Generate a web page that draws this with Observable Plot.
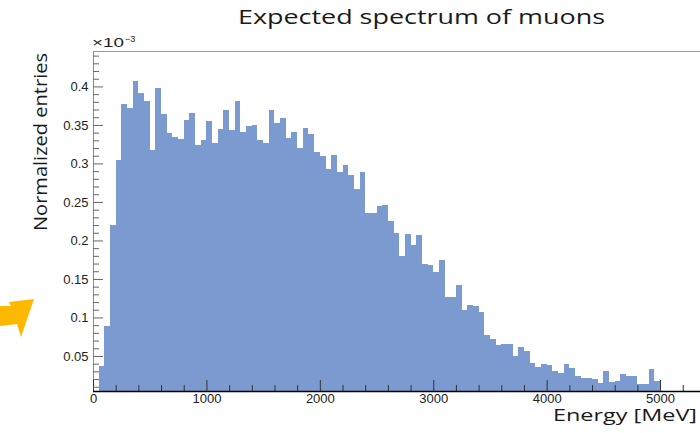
<!DOCTYPE html>
<html>
<head>
<meta charset="utf-8">
<script src="https://cdn.jsdelivr.net/npm/d3@7"></script>
<script src="https://cdn.jsdelivr.net/npm/@observablehq/plot@0.6"></script>
<style>
  html, body { margin: 0; padding: 0; background: #fff; }
  #chart { width: 700px; height: 433px; overflow: hidden; }
</style>
</head>
<body>
<div id="chart"></div>
<script>
// ---- data (energy bins in MeV, normalized entries in units of 1e-3) ----
const binLow = [50,100,150,200,250,300,350,400,450,500,550,600,650,700,750,800,850,900,950,1000,
  1050,1100,1150,1200,1250,1300,1350,1400,1450,1500,1550,1600,1650,1700,1750,1800,1850,1900,1950,2000,
  2050,2100,2150,2200,2250,2300,2350,2400,2450,2500,2550,2600,2650,2700,2750,2800,2850,2900,2950,3000,
  3050,3100,3150,3200,3250,3300,3350,3400,3450,3500,3550,3600,3650,3700,3750,3800,3850,3900,3950,4000,
  4050,4100,4150,4200,4250,4300,4350,4400,4450,4500,4550,4600,4650,4700,4750,4800,4850,4900,4950];
const binWidth = 50;
const entries = [
  0.037,0.089,0.220,0.305,0.377,0.372,0.407,0.391,0.381,0.317,0.398,0.364,0.339,0.334,0.332,0.356,
  0.366,0.324,0.330,0.355,0.327,0.345,0.369,0.343,0.381,0.341,0.349,0.350,0.330,0.327,0.369,0.352,
  0.359,0.333,0.341,0.320,0.346,0.338,0.315,0.310,0.293,0.311,0.289,0.298,0.285,0.267,0.289,0.235,
  0.235,0.245,0.246,0.225,0.210,0.180,0.209,0.194,0.207,0.169,0.168,0.159,0.175,0.127,0.127,0.142,
  0.110,0.116,0.115,0.107,0.077,0.072,0.064,0.066,0.066,0.050,0.061,0.057,0.041,0.036,0.040,0.038,
  0.030,0.028,0.040,0.034,0.024,0.021,0.021,0.020,0.015,0.030,0.016,0.018,0.027,0.024,0.024,0.013,
  0.013,0.033,0.018];

const xMajorTicks = [0,1000,2000,3000,4000,5000];
const xMinorTicks = [200,400,600,800,1200,1400,1600,1800,2200,2400,2600,2800,3200,3400,3600,3800,
  4200,4400,4600,4800,5200];
const yMajorTicks = [0.05,0.1,0.15,0.2,0.25,0.3,0.35,0.4];
const yMinorTicks = [0.01,0.02,0.03,0.04,0.06,0.07,0.08,0.09,0.11,0.12,0.13,0.14,0.16,0.17,0.18,0.19,
  0.21,0.22,0.23,0.24,0.26,0.27,0.28,0.29,0.31,0.32,0.33,0.34,0.36,0.37,0.38,0.39,0.41,0.42,0.43,0.44];

const titleText = "Expected spectrum of muons";
const xTitle = "Energy [MeV]";
const yTitle = "Normalized entries";

// ---- layout ----
const W = 700, H = 433;
const mL = 93, mR = 0, mT = 51, mB = 42;
const frameW = W - mL - mR, frameH = H - mT - mB;
const xDomain = [0, 5352];
const yDomain = [0.0045, 0.446];
const barColor = "#7b9ad0";

const bins = binLow.map((lo, i) => ({lo, hi: lo + binWidth, v: entries[i]}));

const plot = Plot.plot({
  width: W, height: H,
  marginLeft: mL, marginRight: mR, marginTop: mT, marginBottom: mB,
  style: {fontFamily: "'Liberation Sans', Arial, sans-serif", fontSize: "13px", color: "#222", background: "#fff"},
  x: {domain: xDomain, ticks: xMajorTicks, tickSize: 0, tickPadding: 2, tickFormat: d => String(d), label: null},
  y: {domain: yDomain, ticks: yMajorTicks, tickSize: 0, tickPadding: 5, tickFormat: d => String(d), label: null},
  marks: [
    Plot.rect(bins, {x1: "lo", x2: "hi", y1: yDomain[0], y2: "v", fill: barColor, shapeRendering: "crispEdges"}),
    Plot.ruleY([yDomain[1]], {stroke: "#9a9a9a", strokeWidth: 1}),
    Plot.ruleX([xDomain[0]], {stroke: "#8a8a8a", strokeWidth: 1}),
    Plot.tickX(xMajorTicks, {x: d => d, insetTop: frameH - 11, stroke: "#333"}),
    Plot.tickX(xMinorTicks, {x: d => d, insetTop: frameH - 6, stroke: "#333"}),
    Plot.tickY(yMajorTicks, {y: d => d, insetRight: frameW - 10, stroke: "#666"}),
    Plot.tickY(yMinorTicks, {y: d => d, insetRight: frameW - 6, stroke: "#666"}),
    Plot.ruleY([yDomain[0]], {stroke: "#000", strokeWidth: 1.6})
  ]
});

document.getElementById("chart").appendChild(plot);
const svg = d3.select(plot);
const sans = "'Open Sans', 'DejaVu Sans', sans-serif";

// title
svg.append("text")
  .attr("x", 238).attr("y", 24)
  .attr("text-anchor", "start")
  .attr("font-family", sans).attr("font-size", 20).attr("fill", "#1a1a1a")
  .attr("textLength", 367).attr("lengthAdjust", "spacingAndGlyphs")
  .text(titleText);

// exponent label
svg.append("text")
  .attr("x", 92).attr("y", 47)
  .attr("text-anchor", "start")
  .attr("font-family", "'Liberation Sans', Arial, sans-serif").attr("font-size", 13).attr("fill", "#222")
  .attr("textLength", 32).attr("lengthAdjust", "spacingAndGlyphs")
  .text("×10");
svg.append("text")
  .attr("x", 125).attr("y", 42)
  .attr("text-anchor", "start")
  .attr("font-family", "'Liberation Sans', Arial, sans-serif").attr("font-size", 9).attr("fill", "#222")
  .text("−3");

// y title
svg.append("text")
  .attr("transform", "translate(47,53) rotate(-90)")
  .attr("text-anchor", "end")
  .attr("font-family", sans).attr("font-size", 19).attr("fill", "#1a1a1a")
  .attr("textLength", 178).attr("lengthAdjust", "spacingAndGlyphs")
  .text(yTitle);

// x title
svg.append("text")
  .attr("x", 697).attr("y", 421)
  .attr("text-anchor", "end")
  .attr("font-family", sans).attr("font-size", 16).attr("fill", "#1a1a1a")
  .attr("textLength", 144).attr("lengthAdjust", "spacingAndGlyphs")
  .text(xTitle);

// orange arrow fragment at the left edge (slide decoration)
svg.append("polygon")
  .attr("points", "34,299 9,302 11,306 0,306 0,326 17,324 21,337")
  .attr("fill", "#ffb800");
</script>
</body>
</html>
